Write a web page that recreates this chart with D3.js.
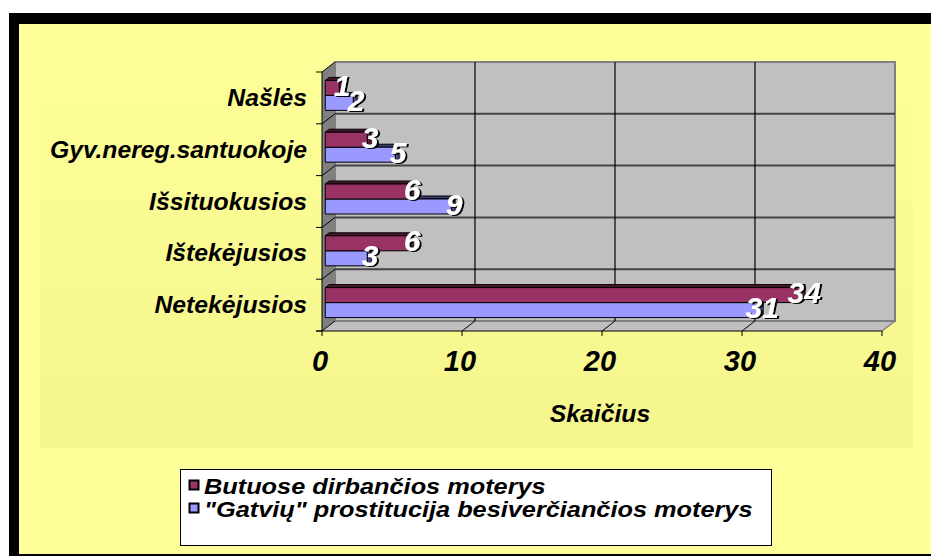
<!DOCTYPE html>
<html>
<head>
<meta charset="utf-8">
<script src="https://cdn.jsdelivr.net/npm/d3@7"></script>
<style>
  html, body { margin: 0; padding: 0; background: #fff; }
  svg { display: block; font-family: "Liberation Sans", Arial, sans-serif; }
</style>
</head>
<body>
<svg id="chart" width="931" height="556"></svg>
<script>
// data
const categories = ['Našlės', 'Gyv.nereg.santuokoje', 'Išsituokusios', 'Ištekėjusios', 'Netekėjusios'];
const seriesNames = ['Butuose dirbančios moterys', '"Gatvių" prostitucija besiverčiančios moterys'];
const butuose = [1, 3, 6, 6, 34];
const gatviu = [2, 5, 9, 3, 31];
const xTicks = [0, 10, 20, 30, 40];
const axisTitle = 'Skaičius';

const seriesValues = [butuose, gatviu];
const colors = [
  { front: '#993366', top: '#4a1530', side: '#5e1c3e' },
  { front: '#9999ff', top: '#3c3c70', side: '#4b4b88' }
];

const svg = d3.select('#chart');
const defs = svg.append('defs');

// drop shadow for data labels
defs.append('filter').attr('id', 'shadow')
  .attr('x', '-20%').attr('y', '-20%').attr('width', '150%').attr('height', '150%')
  .append('feDropShadow').attr('dx', 2).attr('dy', 1).attr('stdDeviation', 0.4)
  .attr('flood-color', '#000').attr('flood-opacity', 1);

// plot area fill fades from the chart yellow to a slightly darker one
const grad = defs.append('linearGradient').attr('id', 'plotfill').attr('x1', 0).attr('y1', 0).attr('x2', 0).attr('y2', 1);
grad.append('stop').attr('offset', '0%').attr('stop-color', '#ffff99');
grad.append('stop').attr('offset', '100%').attr('stop-color', '#f5f58d');

// chart frame
svg.append('rect').attr('x', 9).attr('y', 13).attr('width', 922).attr('height', 543).attr('fill', '#000');
svg.append('rect').attr('x', 19).attr('y', 24).attr('width', 912).attr('height', 530).attr('fill', '#ffff99');
// plot area
svg.append('rect').attr('x', 40).attr('y', 40).attr('width', 873).attr('height', 408).attr('fill', 'url(#plotfill)');

// scales, front plane
const x = d3.scaleLinear().domain([0, 40]).range([322, 882]);
const y = d3.scaleBand().domain(categories).range([72, 331]);
const DX = 13, DY = -10; // depth of the box
const f1 = 0.25, f2 = 0.55; // bar depth span

const sub = d3.scaleBand().domain(d3.range(seriesNames.length)).range([0, 30]);
const groupOff = (y.bandwidth() - 30) / 2;

// left wall
const x0 = x(0), xMax = x(40), yTop = y.range()[0], yBot = y.range()[1];
svg.append('polygon')
  .attr('points', [[x0, yTop], [x0 + DX, yTop + DY], [x0 + DX, yBot + DY], [x0, yBot]].join(' '))
  .attr('fill', '#808080');
// floor
svg.append('polygon')
  .attr('points', [[x0, yBot], [xMax, yBot], [xMax + DX, yBot + DY], [x0 + DX, yBot + DY]].join(' '))
  .attr('fill', '#c0c0c0');
// back wall
svg.append('rect')
  .attr('x', x0 + DX).attr('y', yTop + DY)
  .attr('width', xMax - x0).attr('height', yBot - yTop)
  .attr('fill', '#c0c0c0').attr('stroke', '#808080').attr('stroke-width', 2);

// back wall grid
const bounds = categories.map(c => y(c)).concat([yBot]);
svg.append('g').selectAll('line').data(bounds.slice(1, -1)).join('line')
  .attr('x1', x0 + DX).attr('x2', xMax + DX)
  .attr('y1', d => d + DY).attr('y2', d => d + DY)
  .attr('stroke', '#444').attr('stroke-width', 2);
svg.append('g').selectAll('line').data(xTicks.slice(1, -1)).join('line')
  .attr('x1', d => x(d) + DX).attr('x2', d => x(d) + DX)
  .attr('y1', yTop + DY).attr('y2', yBot + DY)
  .attr('stroke', '#000').attr('stroke-width', 1.2);
// floor grid
svg.append('g').selectAll('line').data(xTicks.slice(1, -1)).join('line')
  .attr('x1', d => x(d)).attr('x2', d => x(d) + DX)
  .attr('y1', yBot).attr('y2', yBot + DY)
  .attr('stroke', '#000').attr('stroke-width', 1);
// left wall grid
svg.append('g').selectAll('line').data(bounds).join('line')
  .attr('x1', x0).attr('x2', x0 + DX)
  .attr('y1', d => d).attr('y2', d => d + DY)
  .attr('stroke', '#000').attr('stroke-width', 1);
// floor right edge
svg.append('line').attr('x1', xMax).attr('y1', yBot).attr('x2', xMax + DX).attr('y2', yBot + DY)
  .attr('stroke', '#808080').attr('stroke-width', 1.5);

// axes
svg.append('line').attr('x1', x0).attr('x2', x0).attr('y1', yTop).attr('y2', yBot).attr('stroke', '#000');
svg.append('line').attr('x1', x0 - 6).attr('x2', xMax).attr('y1', yBot).attr('y2', yBot).attr('stroke', '#000');
svg.append('g').selectAll('line').data(bounds).join('line')
  .attr('x1', x0 - 6).attr('x2', x0).attr('y1', d => d).attr('y2', d => d).attr('stroke', '#000');
svg.append('g').selectAll('line').data(xTicks).join('line')
  .attr('x1', d => x(d)).attr('x2', d => x(d)).attr('y1', yBot).attr('y2', yBot + 5).attr('stroke', '#000');

// 3D bars, lower bar of each pair first
const dd = f2 - f1;
const bars = svg.append('g');
categories.forEach((c, ci) => {
  for (let si = seriesNames.length - 1; si >= 0; si--) {
    const v = seriesValues[si][ci];
    const xa = x(0) + f1 * DX, xb = x(v) + f1 * DX;
    const ya = y(c) + groupOff + sub(si) + f1 * DY, yb = ya + sub.bandwidth();
    const g = bars.append('g').attr('stroke', '#000').attr('stroke-width', 1).attr('stroke-linejoin', 'round');
    g.append('polygon')
      .attr('points', [[xa, ya], [xb, ya], [xb + dd * DX, ya + dd * DY], [xa + dd * DX, ya + dd * DY]].join(' '))
      .attr('fill', colors[si].top);
    g.append('polygon')
      .attr('points', [[xb, ya], [xb + dd * DX, ya + dd * DY], [xb + dd * DX, yb + dd * DY], [xb, yb]].join(' '))
      .attr('fill', colors[si].side);
    g.append('rect').attr('x', xa).attr('y', ya).attr('width', xb - xa).attr('height', yb - ya)
      .attr('fill', colors[si].front);
  }
});

// data labels
const labels = svg.append('g')
  .attr('font-size', 30).attr('font-weight', 'bold').attr('font-style', 'italic').attr('text-anchor', 'middle')
  .attr('fill', '#fff').attr('filter', 'url(#shadow)');
categories.forEach((c, ci) => {
  seriesNames.forEach((s, si) => {
    const v = seriesValues[si][ci];
    const cx = x(v) + (f1 + dd / 2) * DX + 1;
    const cy = y(c) + groupOff + sub(si) + sub.bandwidth() / 2 + f1 * DY + 8;
    labels.append('text').attr('x', cx).attr('y', cy).text(v);
  });
});

// stretch text horizontally by a factor
function stretch(sel, k, anchor) {
  sel.each(function () {
    const t = d3.select(this);
    const w = this.getComputedTextLength();
    const xx = +t.attr('x');
    t.attr('text-anchor', 'start').attr('textLength', w * k).attr('lengthAdjust', 'spacingAndGlyphs');
    if (anchor === 'end') t.attr('x', xx - w * k);
    if (anchor === 'middle') t.attr('x', xx - w * k / 2);
  });
}

// category labels
const catText = svg.append('g').attr('font-size', 24).attr('font-weight', 'bold').attr('font-style', 'italic')
  .selectAll('text').data(categories).join('text')
  .attr('x', 307).attr('y', d => y(d) + y.bandwidth() / 2 + 8)
  .text(d => d);
stretch(catText, 1.03, 'end');

// tick labels
svg.append('g').attr('font-size', 29).attr('font-weight', 'bold').attr('font-style', 'italic').attr('text-anchor', 'middle')
  .selectAll('text').data(xTicks).join('text')
  .attr('x', d => x(d) - 2).attr('y', 371).text(d => d);

// axis title
const title = svg.append('text').attr('x', 600).attr('y', 422)
  .attr('font-size', 24).attr('font-weight', 'bold').attr('font-style', 'italic').text(axisTitle);
stretch(title, 1.03, 'middle');

// legend
svg.append('rect').attr('x', 180.5).attr('y', 469.5).attr('width', 591).attr('height', 76)
  .attr('fill', '#fff').attr('stroke', '#000');
const leg = svg.append('g');
seriesNames.forEach((s, i) => {
  leg.append('rect').attr('x', 189.5).attr('y', 480.5 + i * 23).attr('width', 9).attr('height', 9)
    .attr('fill', colors[i].front).attr('stroke', '#000').attr('stroke-width', 2);
});
const legText = leg.selectAll('text').data(seriesNames).join('text')
  .attr('x', 204).attr('y', (d, i) => 494 + i * 23)
  .attr('font-size', 22).attr('font-weight', 'bold').attr('font-style', 'italic')
  .text(d => d);
stretch(legText, 1.15, 'start');
</script>
</body>
</html>
